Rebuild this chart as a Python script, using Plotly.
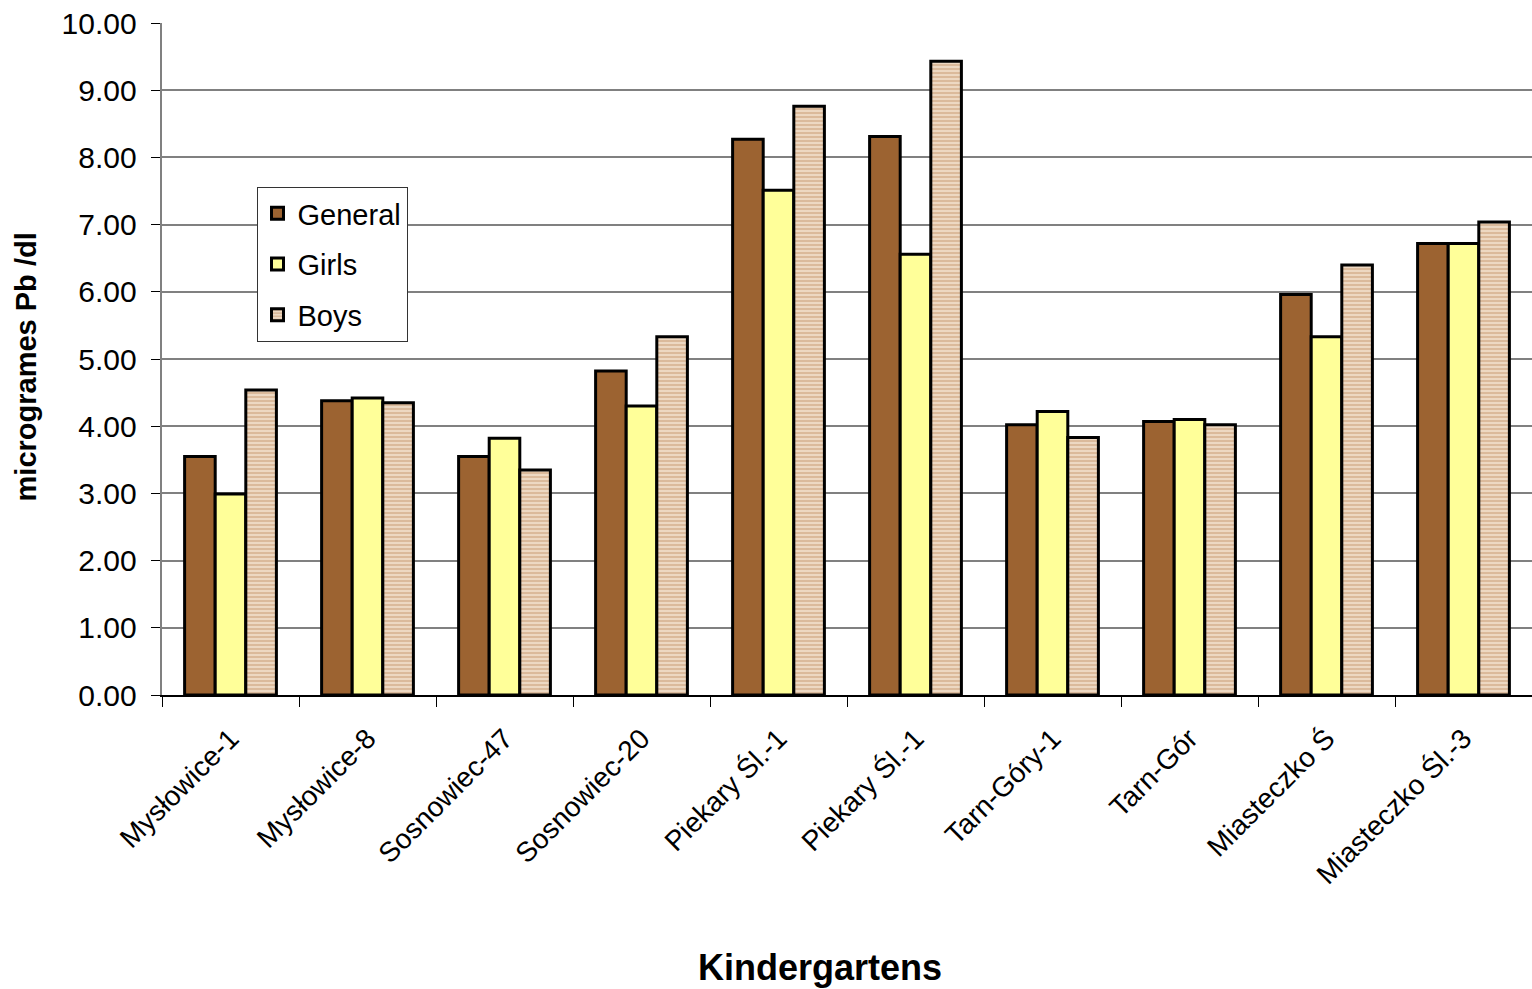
import plotly.graph_objects as go

categories = ["Mysłowice-1", "Mysłowice-8", "Sosnowiec-47", "Sosnowiec-20",
              "Piekary Śl.-1a", "Piekary Śl.-1b", "Tarn-Góry-1", "Tarn-Gór",
              "Miasteczko Ś", "Miasteczko Śl.-3"]
tick_labels = ["Mysłowice-1", "Mysłowice-8", "Sosnowiec-47", "Sosnowiec-20",
               "Piekary Śl.-1", "Piekary Śl.-1", "Tarn-Góry-1", "Tarn-Gór",
               "Miasteczko Ś", "Miasteczko Śl.-3"]
general = [3.55, 4.38, 3.55, 4.82, 8.27, 8.31, 4.02, 4.07, 5.96, 6.72]
girls = [2.99, 4.42, 3.82, 4.30, 7.51, 6.56, 4.22, 4.10, 5.33, 6.72]
boys = [4.54, 4.35, 3.35, 5.33, 8.76, 9.43, 3.83, 4.02, 6.40, 7.04]

FONT = "Liberation Sans, Arial, sans-serif"

fig = go.Figure()
fig.add_trace(go.Bar(name="General", x=categories, y=general, legendgroup="g1",
                     marker=dict(color="#9C6331", line=dict(color="black", width=3))))
fig.add_trace(go.Bar(name="Girls", x=categories, y=girls, legendgroup="g2",
                     marker=dict(color="#FFFF99", line=dict(color="black", width=3))))
fig.add_trace(go.Bar(name="Boys", x=categories, y=boys, legendgroup="g3",
                     marker=dict(color="#F2E0CC", line=dict(color="black", width=3),
                                 pattern=dict(shape="-", fgcolor="#C4946A", bgcolor="#F2E0CC",
                                              size=4, solidity=0.6, fillmode="overlay"))))

fig.update_layout(
    width=1532, height=989,
    margin=dict(l=162, r=0, t=23, b=294),
    paper_bgcolor="white", plot_bgcolor="white",
    barmode="group", bargap=0.33, bargroupgap=0,
    font=dict(family=FONT, color="black"),
    showlegend=True,
    legend=dict(x=0.069, y=0.756, xanchor="left", yanchor="top",
                bgcolor="white", bordercolor="#333333", borderwidth=1,
                font=dict(size=29, family=FONT), traceorder="grouped",
                tracegroupgap=10, itemwidth=30),
    xaxis=dict(type="category", tickmode="array", tickvals=categories, ticktext=tick_labels,
               tickson="boundaries", ticks="outside", ticklen=10, tickcolor="black",
               tickangle=-45, tickfont=dict(size=28, family=FONT), ticklabelstandoff=14,
               showline=True, linecolor="black", linewidth=2, showgrid=False,
               range=[-0.5, 9.5]),
    yaxis=dict(range=[0, 10], dtick=1, tickformat=".2f", ticks="outside", ticklen=9,
               ticksuffix=" ", tickcolor="black", tickfont=dict(size=30, family=FONT),
               showline=True, linecolor="#808080", linewidth=2,
               showgrid=True, gridcolor="#808080", gridwidth=2, zeroline=False),
    annotations=[
        dict(text="<b>Kindergartens</b>", xref="paper", yref="paper", x=0.48, y=-0.406,
             xanchor="center", yanchor="middle", showarrow=False,
             font=dict(size=36, family=FONT)),
        dict(text="<b>microgrames Pb /dl</b>", xref="paper", yref="paper", x=-0.099, y=0.488,
             xanchor="center", yanchor="middle", textangle=-90, showarrow=False,
             font=dict(size=29, family=FONT)),
    ],
)

fig.write_html("out.html")
